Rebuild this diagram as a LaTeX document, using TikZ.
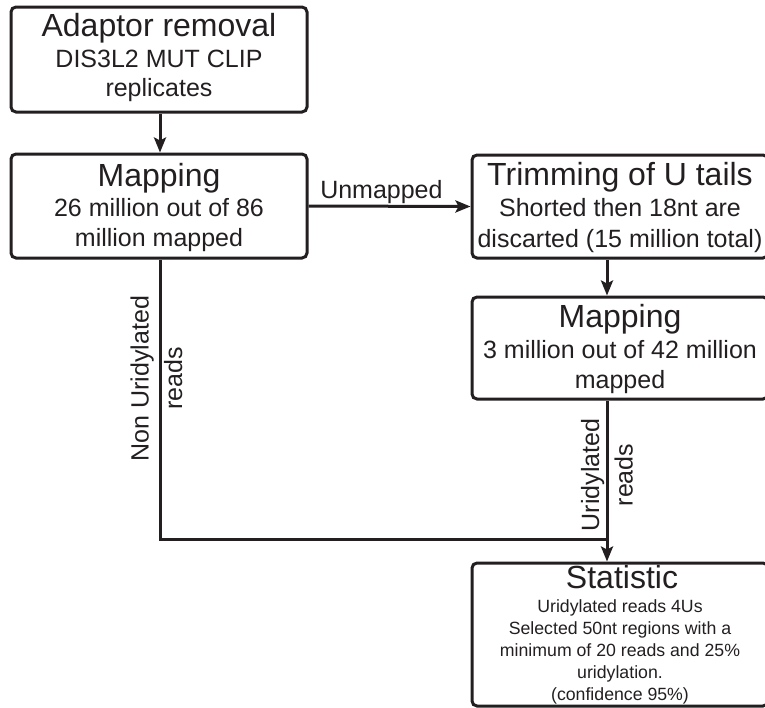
\documentclass[tikz,border=0pt]{standalone}
\usepackage{fontspec}
\setmainfont{Liberation Sans}
\usetikzlibrary{arrows.meta}
\definecolor{ink}{RGB}{35,31,32}
\begin{document}
\begin{tikzpicture}[x=1pt,y=-1pt,
  box/.style={draw=ink, line width=3pt, rounded corners=5pt, minimum width=296pt, inner sep=0pt},
  ttl/.style={font=\fontsize{32}{36}\selectfont, text=ink, anchor=base, inner sep=0pt},
  sub/.style={font=\fontsize{25}{30}\selectfont, text=ink, anchor=base, inner sep=0pt},
  sml/.style={font=\fontsize{17.7}{22}\selectfont, text=ink, anchor=base, inner sep=0pt},
  lbl/.style={font=\fontsize{25}{33.5}\selectfont, text=ink, inner sep=0pt},
  conn/.style={draw=ink, line width=3pt},
  arr/.style={conn, -{Stealth[length=15pt,width=12pt,inset=3pt]}}]
\useasboundingbox (0,0) rectangle (765,707);

% boxes
\node[box, minimum height=105pt] (b1) at (159,59.5) {};
\node[box, minimum height=104pt] (b2) at (159,206) {};
\node[box, minimum height=103pt] (b3) at (620,206.5) {};
\node[box, minimum height=102pt] (b4) at (620,348) {};
\node[box, minimum height=143pt] (b5) at (620,634.5) {};

% texts
\node[ttl] (b1t) at (159,36) {Adaptor removal};
\node[sub] (b1a) at (159,67) {DIS3L2 MUT CLIP};
\node[sub] (b1b) at (159,96) {replicates};

\node[ttl] (b2t) at (159,186) {Mapping};
\node[sub] (b2a) at (159,216) {26 million out of 86};
\node[sub] (b2b) at (159,246) {million mapped};

\node[ttl] (b3t) at (620,185) {Trimming of U tails};
\node[sub] (b3a) at (620,216) {Shorted then 18nt are};
\node[sub] (b3b) at (620,247) {discarted (15 million total)};

\node[ttl] (b4t) at (620,327) {Mapping};
\node[sub] (b4a) at (620,358) {3 million out of 42 million};
\node[sub] (b4b) at (620,388) {mapped};

\node[ttl] (b5t) at (622,588) {Statistic};
\node[sml] (b5a) at (620,612) {Uridylated reads 4Us};
\node[sml] (b5b) at (620,634) {Selected 50nt regions with a};
\node[sml] (b5c) at (620,656) {minimum of 20 reads and 25\%};
\node[sml] (b5d) at (620,678) {uridylation.};
\node[sml] (b5e) at (620,700) {(confidence 95\%)};

% connectors
\coordinate (jx) at (607,539);
\draw[arr] ([xshift=1pt]b1.south) -- ([xshift=1pt]b2.north);
\draw[arr] (b2.east) -- (b3.west)
  node[lbl, pos=0.45, anchor=base, yshift=8pt] (um) {Unmapped};
\draw[arr] ([xshift=-13pt]b3.south) -- ([xshift=-13pt]b4.north);
\draw[conn] ([xshift=1pt]b2.south) |- (jx);
\draw[arr] ([xshift=-13pt]b4.south) -- ([xshift=-13pt]b5.north);

% rotated labels
\node[lbl, rotate=90, align=center] (l1) at (156.5,378.5) {Non Uridylated\\reads};
\node[lbl, rotate=90, align=center] (l2) at (607,475) {Uridylated\\reads};
\end{tikzpicture}
\end{document}
